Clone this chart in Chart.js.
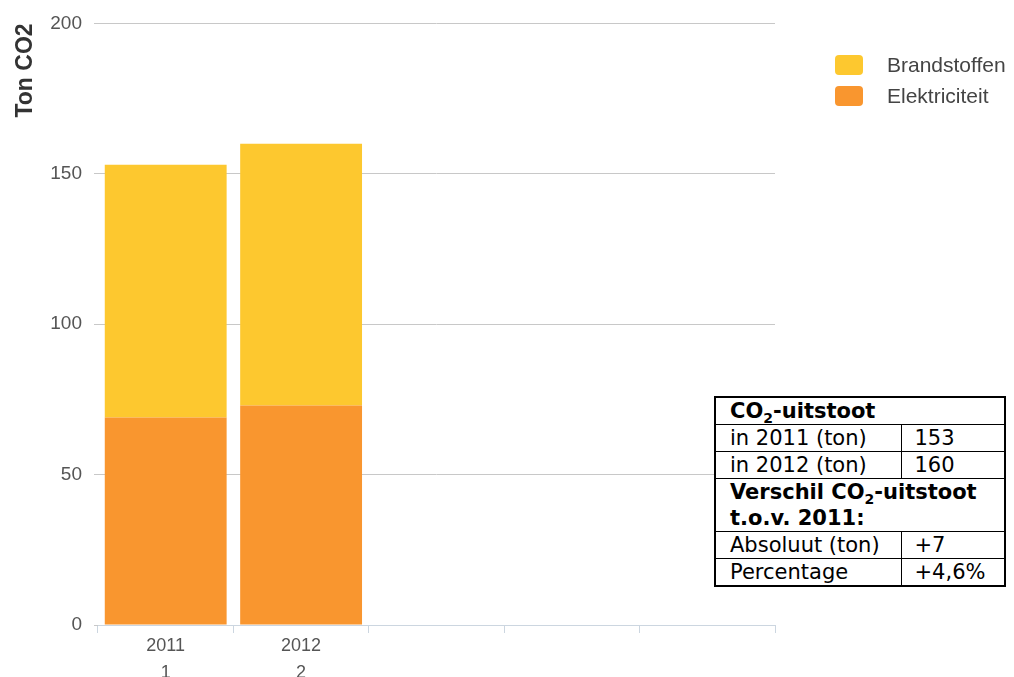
<!DOCTYPE html>
<html lang="nl">
  <head>
    <meta charset="UTF-8" />
    <title>CO2-uitstoot</title>
    <script src="https://cdn.jsdelivr.net/npm/chart.js"></script>
    <style>
      body { margin: 0; background: #fff; }
      #wrap { position: relative; width: 1014px; height: 677px; }
      #legend { position: absolute; left: 835px; top: 49px; font-family: "Liberation Sans", Arial, sans-serif; font-size: 21px; color: #444; }
      #legend div { display: flex; align-items: center; height: 31px; white-space: nowrap; }
      #legend span.box { width: 28px; height: 20px; border-radius: 4px; margin-right: 24px; }
      #stats { position: absolute; left: 714px; top: 396px; width: 290px; border-collapse: collapse; border: 2px solid #000; background: #fff;
               font-family: "DejaVu Sans", Verdana, sans-serif; font-size: 21px; color: #000; table-layout: fixed; }
      #stats td { border: 1px solid #000; padding: 0 4px 0 14px; line-height: 26px; white-space: nowrap; overflow: hidden; }
      #stats td.b { font-weight: bold; white-space: normal; }
      #stats td.v { padding-left: 13px; }
      #stats sub { font-size: 14px; line-height: 0; }
    </style>
  </head>
  <body>
    <div id="wrap">
      <canvas id="co2Chart" width="1014" height="677"></canvas>
      <div id="legend"></div>
      <table id="stats">
        <colgroup><col style="width:186px" /><col style="width:104px" /></colgroup>
        <tr><td class="b" colspan="2">CO<sub>2</sub>-uitstoot</td></tr>
        <tr><td>in 2011 (ton)</td><td class="v">153</td></tr>
        <tr><td>in 2012 (ton)</td><td class="v">160</td></tr>
        <tr><td class="b" colspan="2">Verschil CO<sub>2</sub>-uitstoot t.o.v. 2011:</td></tr>
        <tr><td>Absoluut (ton)</td><td class="v">+7</td></tr>
        <tr><td>Percentage</td><td class="v">+4,6%</td></tr>
      </table>
    </div>

    <script>
      // data
      const years = [['2011', '1'], ['2012', '2'], '', '', ''];
      const brandstoffen = [84, 87, null, null, null];
      const elektriciteit = [69, 73, null, null, null];
      const yTicks = [0, 50, 100, 150, 200];

      const chart = new Chart(document.getElementById('co2Chart'), {
        type: 'bar',
        data: {
          labels: years,
          datasets: [
            { label: 'Brandstoffen', data: brandstoffen, backgroundColor: '#fdc82f', order: 1 },
            { label: 'Elektriciteit', data: elektriciteit, backgroundColor: '#f9962f', order: 0 }
          ]
        },
        options: {
          responsive: false,
          animation: false,
          layout: { padding: { top: 23, right: 239, left: 12, bottom: 0 } },
          categoryPercentage: 1,
          barPercentage: 0.9,
          plugins: { legend: { display: false }, tooltip: { enabled: false } },
          scales: {
            x: {
              stacked: true,
              grid: { drawOnChartArea: false, drawTicks: true, tickLength: 8, color: '#ccd6e0' },
              border: { color: '#ccd6e0', width: 1 },
              ticks: { color: '#555', font: { family: 'Liberation Sans', size: 18, lineHeight: 1.5 }, padding: 0, autoSkip: false, maxRotation: 0 },
              afterFit: (s) => { s.height = 52; }
            },
            y: {
              stacked: true,
              min: 0,
              max: 200,
              afterBuildTicks: (s) => { s.ticks = yTicks.map(v => ({ value: v })); },
              grid: { color: '#c8c8c8', drawTicks: true, tickLength: 4 },
              border: { display: false },
              ticks: { color: '#555', font: { family: 'Liberation Sans', size: 19 }, padding: 12 },
              title: { display: true, text: 'Ton CO2', align: 'end', color: '#333', font: { family: 'Liberation Sans', size: 23, weight: 'bold' }, padding: 0 },
              afterFit: (s) => { s.width = 86; }
            }
          }
        }
      });

      // legend built from the chart's datasets
      const legend = document.getElementById('legend');
      chart.data.datasets.forEach(ds => {
        const row = document.createElement('div');
        row.innerHTML = '<span class="box" style="background:' + ds.backgroundColor + '"></span>' + ds.label;
        legend.appendChild(row);
      });
    </script>
  </body>
</html>
